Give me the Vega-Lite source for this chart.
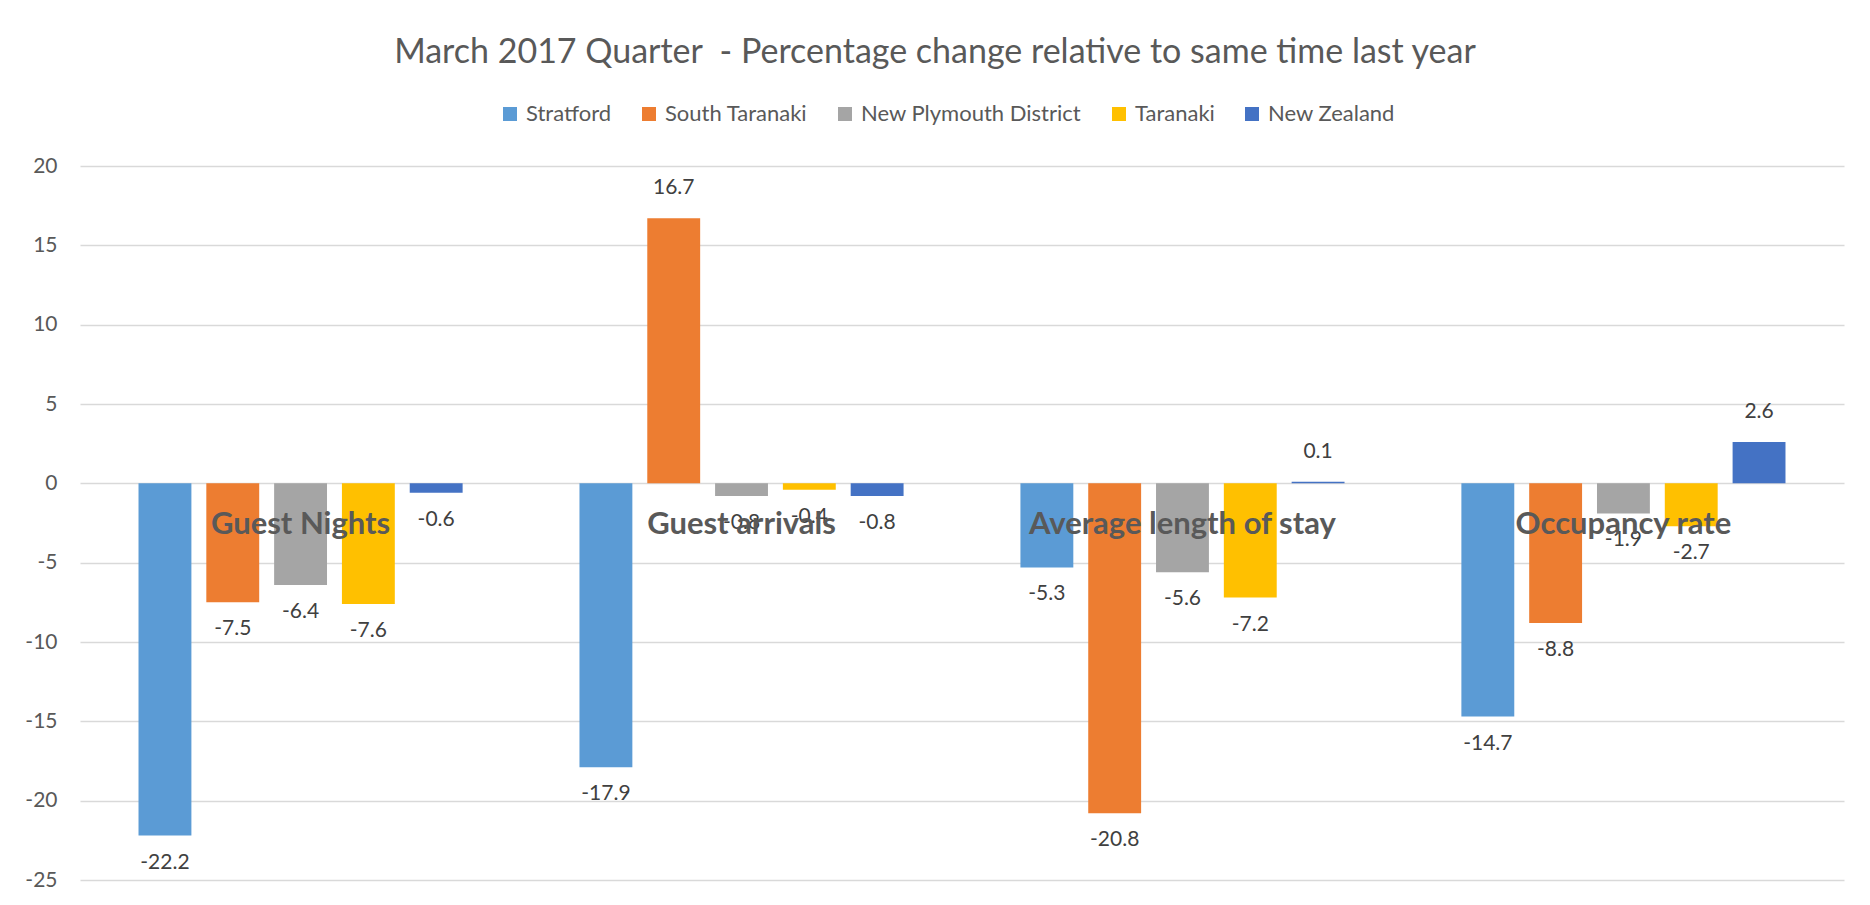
{
  "$schema": "https://vega.github.io/schema/vega-lite/v6.json",
  "width": 1764,
  "height": 714,
  "autosize": {"type": "none"},
  "padding": {"left": 80, "top": 166, "right": 26, "bottom": 25},
  "background": "white",
  "title": {
    "text": "March 2017 Quarter \u00a0- Percentage change relative to same time last year",
    "font": "Lato",
    "fontSize": 34,
    "fontWeight": "normal",
    "color": "#595959",
    "anchor": "middle",
    "frame": "group",
    "baseline": "alphabetic",
    "dx": -27,
    "offset": 6
  },
  "config": {
    "view": {"stroke": null},
    "font": "Lato",
    "axis": {"labelFont": "Lato"},
    "locale": {
      "number": {
        "decimal": ".",
        "thousands": ",",
        "grouping": [3],
        "currency": ["$", ""],
        "minus": "-"
      }
    }
  },
  "data": {
    "values": [
      {"category": "Guest Nights", "series": "Stratford", "value": -22.2},
      {"category": "Guest Nights", "series": "South Taranaki", "value": -7.5},
      {"category": "Guest Nights", "series": "New Plymouth District", "value": -6.4},
      {"category": "Guest Nights", "series": "Taranaki", "value": -7.6},
      {"category": "Guest Nights", "series": "New Zealand", "value": -0.6},
      {"category": "Guest arrivals", "series": "Stratford", "value": -17.9},
      {"category": "Guest arrivals", "series": "South Taranaki", "value": 16.7},
      {"category": "Guest arrivals", "series": "New Plymouth District", "value": -0.8},
      {"category": "Guest arrivals", "series": "Taranaki", "value": -0.4},
      {"category": "Guest arrivals", "series": "New Zealand", "value": -0.8},
      {"category": "Average length of stay", "series": "Stratford", "value": -5.3},
      {"category": "Average length of stay", "series": "South Taranaki", "value": -20.8},
      {"category": "Average length of stay", "series": "New Plymouth District", "value": -5.6},
      {"category": "Average length of stay", "series": "Taranaki", "value": -7.2},
      {"category": "Average length of stay", "series": "New Zealand", "value": 0.1},
      {"category": "Occupancy rate", "series": "Stratford", "value": -14.7},
      {"category": "Occupancy rate", "series": "South Taranaki", "value": -8.8},
      {"category": "Occupancy rate", "series": "New Plymouth District", "value": -1.9},
      {"category": "Occupancy rate", "series": "Taranaki", "value": -2.7},
      {"category": "Occupancy rate", "series": "New Zealand", "value": 2.6}
    ]
  },
  "encoding": {
    "x": {
      "field": "category",
      "type": "nominal",
      "sort": ["Guest Nights", "Guest arrivals", "Average length of stay", "Occupancy rate"],
      "scale": {"paddingInner": 0.265, "paddingOuter": 0.1327},
      "axis": null
    }
  },
  "layer": [
    {
      "mark": {"type": "bar"},
      "encoding": {
        "xOffset": {
          "field": "series",
          "type": "nominal",
          "sort": ["Stratford", "South Taranaki", "New Plymouth District", "Taranaki", "New Zealand"],
          "scale": {"paddingInner": 0.22, "paddingOuter": 0}
        },
        "y": {
          "field": "value",
          "type": "quantitative",
          "scale": {"domain": [-25, 20], "nice": false, "zero": false},
          "axis": {
            "title": null,
            "values": [-25, -20, -15, -10, -5, 0, 5, 10, 15, 20],
            "domain": false,
            "ticks": false,
            "grid": true,
            "gridColor": "#d9d9d9",
            "gridWidth": 1.5,
            "labelFontSize": 21,
            "labelColor": "#595959",
            "labelPadding": 23
          }
        },
        "color": {
          "field": "series",
          "type": "nominal",
          "sort": ["Stratford", "South Taranaki", "New Plymouth District", "Taranaki", "New Zealand"],
          "scale": {
            "domain": ["Stratford", "South Taranaki", "New Plymouth District", "Taranaki", "New Zealand"],
            "range": ["#5B9BD5", "#ED7D31", "#A5A5A5", "#FFC000", "#4472C4"]
          },
          "legend": {
            "title": null,
            "orient": "none",
            "direction": "horizontal",
            "legendX": 419,
            "legendY": -63,
            "symbolType": "square",
            "symbolSize": 196,
            "symbolStrokeWidth": 0,
            "labelFontSize": 22,
            "labelLimit": 400,
            "labelColor": "#595959",
            "labelOffset": 5,
            "columnPadding": 26
          }
        }
      }
    },
    {
      "transform": [{"filter": "datum.value < 0"}],
      "mark": {"type": "text", "dy": 27, "baseline": "middle", "fontSize": 21, "color": "#404040"},
      "encoding": {
        "xOffset": {
          "field": "series",
          "type": "nominal",
          "sort": ["Stratford", "South Taranaki", "New Plymouth District", "Taranaki", "New Zealand"]
        },
        "y": {"field": "value", "type": "quantitative"},
        "text": {"field": "value", "type": "quantitative", "format": ".1f"}
      }
    },
    {
      "transform": [{"filter": "datum.value >= 0"}],
      "mark": {"type": "text", "dy": -30, "baseline": "middle", "fontSize": 21, "color": "#404040"},
      "encoding": {
        "xOffset": {
          "field": "series",
          "type": "nominal",
          "sort": ["Stratford", "South Taranaki", "New Plymouth District", "Taranaki", "New Zealand"]
        },
        "y": {"field": "value", "type": "quantitative"},
        "text": {"field": "value", "type": "quantitative", "format": ".1f"}
      }
    },
    {
      "transform": [{"filter": "datum.series === 'Stratford'"}],
      "mark": {"type": "text", "baseline": "middle", "fontSize": 31, "fontWeight": "bold", "color": "#595959"},
      "encoding": {
        "y": {"datum": -2.65},
        "text": {"field": "category", "type": "nominal"}
      }
    }
  ]
}
